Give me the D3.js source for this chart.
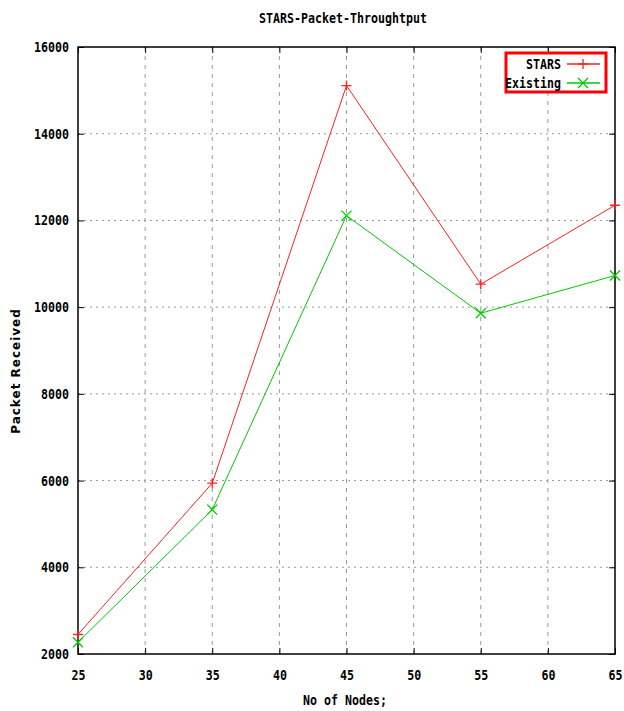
<!DOCTYPE html>
<html>
<head>
<meta charset="utf-8">
<script src="https://cdn.jsdelivr.net/npm/d3@7"></script>
<style>
  body { margin: 0; background: #fff; }
  svg text { font-family: "DejaVu Sans Mono", monospace; }
</style>
</head>
<body>
<div id="graph"></div>
<script>
// chart data
const nodes = [25, 35, 45, 55, 65];
const starsValues = [2450, 5940, 15110, 10530, 12350];
const existingValues = [2270, 5330, 12110, 9860, 10730];
const xTicks = [25, 30, 35, 40, 45, 50, 55, 60, 65];
const yTicks = [2000, 4000, 6000, 8000, 10000, 12000, 14000, 16000];
const seriesNames = ["STARS", "Existing"];

const W = 624, H = 711;
const margin = { top: 47, right: 9, bottom: 57, left: 78 };
const width = W - margin.left - margin.right;
const height = H - margin.top - margin.bottom;
const squeeze = 0.83; // the reference font is tall and narrow

const svg = d3.select("#graph").append("svg")
    .attr("width", W).attr("height", H);

const g = svg.append("g")
    .attr("transform", `translate(${margin.left}, ${margin.top})`);

const x = d3.scaleLinear().domain([25, 65]).range([0, width]);
const y = d3.scaleLinear().domain([2000, 16000]).range([height, 0]);

// narrow text helper: places text at (tx, ty) squeezed horizontally
function narrowText(sel, tx, ty, str, anchor) {
    return sel.append("text")
        .attr("transform", `translate(${tx},${ty}) scale(${squeeze},1)`)
        .attr("dy", "0.35em")
        .attr("text-anchor", anchor || "middle")
        .attr("font-size", 14).attr("font-weight", "bold")
        .text(str);
}

// grid
g.append("g").selectAll("line").data(xTicks.slice(1, -1)).join("line")
    .attr("x1", d => x(d)).attr("x2", d => x(d))
    .attr("y1", 0).attr("y2", height)
    .attr("stroke", "#999").attr("stroke-dasharray", "4,5");
g.append("g").selectAll("line").data(yTicks.slice(1, -1)).join("line")
    .attr("x1", 0).attr("x2", width)
    .attr("y1", d => y(d)).attr("y2", d => y(d))
    .attr("stroke", "#999").attr("stroke-dasharray", "2,4");

// axes (ticks drawn inward, labels outside)
const squeezeLabels = a => a.selectAll("text")
    .attr("font-family", "DejaVu Sans Mono, monospace")
    .attr("font-size", 14).attr("font-weight", "bold").attr("fill", "#000")
    .each(function () {
        const t = d3.select(this);
        const tx = +t.attr("x") || 0, ty = +t.attr("y") || 0;
        t.attr("x", null).attr("y", null)
            .attr("transform", `translate(${tx},${ty}) scale(${squeeze},1)`);
    });

g.append("g")
    .attr("transform", `translate(0, ${height})`)
    .call(d3.axisBottom(x).tickValues(xTicks).tickFormat(d3.format("d"))
        .tickSizeInner(-6).tickSizeOuter(0).tickPadding(16))
    .call(squeezeLabels)
    .call(a => a.select(".domain").remove());

g.append("g")
    .call(d3.axisLeft(y).tickValues(yTicks).tickFormat(d3.format("d"))
        .tickSizeInner(-6).tickSizeOuter(0).tickPadding(9))
    .call(squeezeLabels)
    .call(a => a.select(".domain").remove());

// mirror ticks
g.append("g").attr("transform", `translate(${width},0)`)
    .call(d3.axisRight(y).tickValues(yTicks).tickSizeInner(-6).tickSizeOuter(0).tickFormat(""))
    .call(a => a.select(".domain").remove());
g.append("g")
    .call(d3.axisTop(x).tickValues(xTicks).tickSizeInner(-6).tickSizeOuter(0).tickFormat(""))
    .call(a => a.select(".domain").remove());

g.selectAll(".tick line").attr("stroke", "#000");

// frame
g.append("rect")
    .attr("width", width).attr("height", height)
    .attr("fill", "none").attr("stroke", "#000").attr("stroke-width", 1.5);

// series
const series = [
    { name: seriesNames[0], values: starsValues, color: "#ff2020", marker: "plus" },
    { name: seriesNames[1], values: existingValues, color: "#00c800", marker: "cross" }
];

const line = d3.line().x((d, i) => x(nodes[i])).y(d => y(d));

function drawMarker(sel, type, cx, cy, color) {
    const s = 5;
    const path = type === "plus"
        ? `M${cx - s},${cy}H${cx + s}M${cx},${cy - s}V${cy + s}`
        : `M${cx - s},${cy - s}L${cx + s},${cy + s}M${cx - s},${cy + s}L${cx + s},${cy - s}`;
    sel.append("path").attr("d", path).attr("stroke", color).attr("stroke-width", 1.3).attr("fill", "none");
}

series.forEach(s => {
    g.append("path")
        .datum(s.values)
        .attr("d", line)
        .attr("fill", "none")
        .attr("stroke", s.color)
        .attr("stroke-width", 1);
    s.values.forEach((v, i) => drawMarker(g, s.marker, x(nodes[i]), y(v), s.color));
});

// legend
const legend = svg.append("g");
legend.append("rect")
    .attr("x", 506).attr("y", 53).attr("width", 100).attr("height", 39)
    .attr("fill", "#fff").attr("stroke", "#ff0000").attr("stroke-width", 3);
series.forEach((s, i) => {
    const ly = 64 + i * 19;
    narrowText(legend, 561, ly, s.name, "end");
    legend.append("line")
        .attr("x1", 567).attr("x2", 600).attr("y1", ly).attr("y2", ly)
        .attr("stroke", s.color).attr("stroke-width", 1.3);
    drawMarker(legend, s.marker, 583, ly, s.color);
});

// titles
narrowText(svg, 343, 18, "STARS-Packet-Throughtput");
narrowText(svg, 345, 700, "No of Nodes;");

svg.append("text")
    .attr("transform", "translate(16, 371) rotate(-90)")
    .attr("dy", "0.35em")
    .attr("text-anchor", "middle")
    .style("font-family", "'DejaVu Sans', sans-serif")
    .attr("font-size", 12).attr("font-weight", "bold")
    .attr("letter-spacing", 1)
    .text("Packet Received");
</script>
</body>
</html>
